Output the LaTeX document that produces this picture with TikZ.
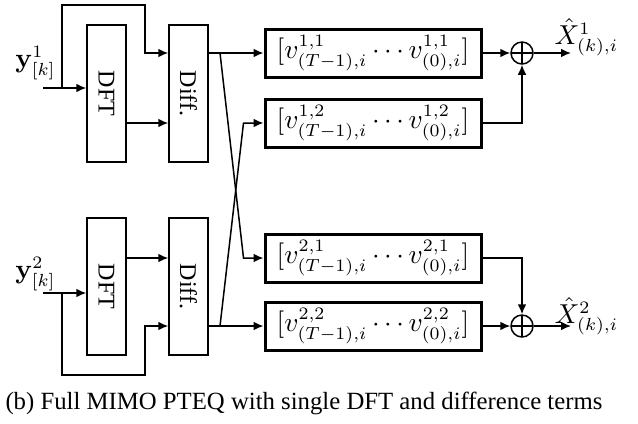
\documentclass[tikz,border=0pt]{standalone}
\usepackage{amsmath,amssymb}
\usepackage[no-math]{fontspec}
\setmainfont{Liberation Serif}
\usetikzlibrary{positioning,arrows.meta}

\begin{document}
\begin{tikzpicture}[
    x=0.4pt, y=-0.4pt,
    block/.style={
        rectangle,
        draw=black,
        line width=0.6pt,
        minimum width=15.6pt,
        minimum height=54.8pt,
        inner sep=0pt,
        font=\fontsize{9.6}{11}\selectfont
    },
    coef/.style={
        rectangle,
        draw=black,
        line width=1.2pt,
        minimum width=86.4pt,
        minimum height=19.2pt,
        inner sep=0pt,
        font=\fontsize{10.7}{12}\selectfont
    },
    adder/.style={
        circle,
        draw=black,
        line width=0.6pt,
        minimum size=8.8pt,
        inner sep=0pt,
        path picture={
            \draw[line width=0.6pt] (path picture bounding box.north) -- (path picture bounding box.south)
                (path picture bounding box.west) -- (path picture bounding box.east);
        }
    },
    lbl/.style={inner sep=0pt, font=\fontsize{10.7}{12}\selectfont},
    arrow/.style={-{Latex[length=4pt,width=3.5pt]}, line width=0.6pt, black}
]
\useasboundingbox (0,0) rectangle (638,423);

\node[block] (dft1) at (106.5,93.5) {\rotatebox{-90}{DFT}};
\node[block] (diff1) at (188.5,93.5) {\rotatebox{-90}{Diff.}};
\node[block] (dft2) at (106.5,286.5) {\rotatebox{-90}{DFT}};
\node[block] (diff2) at (188.5,286.5) {\rotatebox{-90}{Diff.}};

\node[coef] (v11) at (373,53) {$[v^{1,1}_{(T-1),i}\cdots v^{1,1}_{(0),i}]$};
\node[coef] (v12) at (373,123) {$[v^{1,2}_{(T-1),i}\cdots v^{1,2}_{(0),i}]$};
\node[coef] (v21) at (373,258) {$[v^{2,1}_{(T-1),i}\cdots v^{2,1}_{(0),i}]$};
\node[coef] (v22) at (373,326) {$[v^{2,2}_{(T-1),i}\cdots v^{2,2}_{(0),i}]$};

\node[adder] (sum1) at (522,53) {};
\node[adder] (sum2) at (522,326) {};

\node[lbl, anchor=east] (y1) at (56,63) {$\mathbf{y}^1_{[k]}$};
\node[lbl, anchor=east] (y2) at (56,274) {$\mathbf{y}^2_{[k]}$};
\node[lbl, anchor=west] (x1) at (554,37) {$\hat{X}^1_{(k),i}$};
\node[lbl, anchor=west] (x2) at (554,316) {$\hat{X}^2_{(k),i}$};

\coordinate (in1) at (43,88);
\coordinate (in2) at (43,293);
\coordinate (j1) at (62,88);
\coordinate (j2) at (62,293);
\coordinate (top1) at (145,5);
\coordinate (bot2) at (145,375);
\coordinate (b1) at (220,53);
\coordinate (b2) at (220,326);
\coordinate (out1) at (571,53);
\coordinate (out2) at (571,326);

% inputs and bypass loops
\draw[arrow] (in1) -- (dft1.west |- in1);
\draw[arrow] (j1) |- (top1) |- (diff1.west |- v11.west);
\draw[arrow] (in2) -- (dft2.west |- in2);
\draw[arrow] (j2) |- (bot2) |- (diff2.west |- v22.west);

\draw[arrow] (dft1.east |- v12.west) -- (diff1.west |- v12.west);
\draw[arrow] (dft2.east |- v21.west) -- (diff2.west |- v21.west);

% difference terms to the filters
\draw[arrow] (diff1.east |- v11.west) -- (v11.west);
\draw[arrow] (diff2.east |- v22.west) -- (v22.west);
\draw[arrow] (b1) -- ([xshift=-8pt]v21.west) -- (v21.west);
\draw[arrow] (b2) -- ([xshift=-8pt]v12.west) -- (v12.west);

% sums
\draw[arrow] (v11.east) -- (sum1.west);
\draw[arrow] (v12.east) -| (sum1.south);
\draw[arrow] (sum1.east) -- (out1);
\draw[arrow] (v21.east) -| (sum2.north);
\draw[arrow] (v22.east) -- (sum2.west);
\draw[arrow] (sum2.east) -- (out2);

\node[inner sep=0pt, anchor=base west, font=\fontsize{9.9}{11}\selectfont] (cap) at (5,409)
    {(b) Full MIMO PTEQ with single DFT and difference terms};
\end{tikzpicture}
\end{document}
